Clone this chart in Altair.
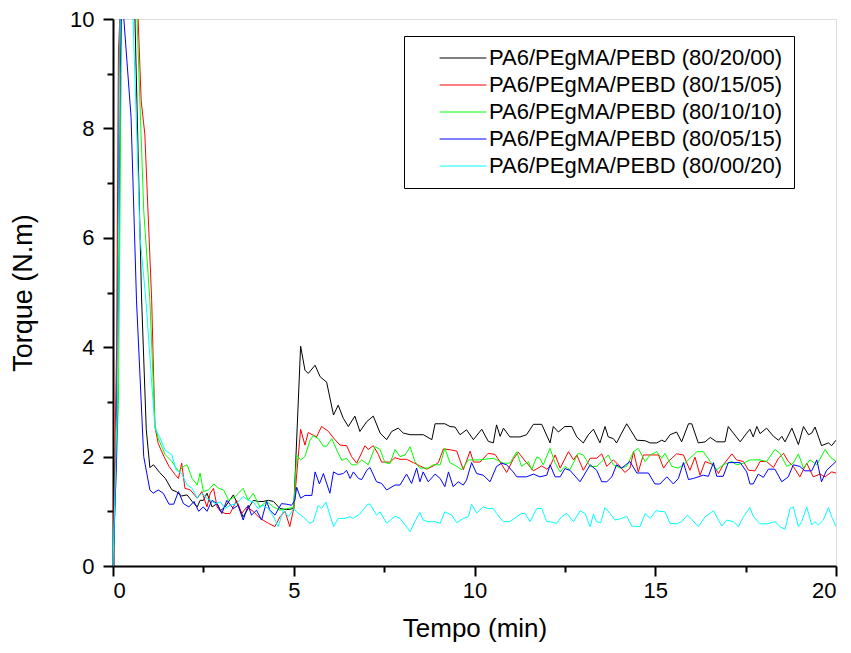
import altair as alt
import pandas as pd

SERIES = [
    "PA6/PEgMA/PEBD (80/20/00)",
    "PA6/PEgMA/PEBD (80/15/05)",
    "PA6/PEgMA/PEBD (80/10/10)",
    "PA6/PEgMA/PEBD (80/05/15)",
    "PA6/PEgMA/PEBD (80/00/20)",
]
COLORS = ["#000000", "#ff0000", "#00ff00", "#0000ff", "#00ffff"]

BLACK_T = [0, 0.1, 0.2, 0.4, 0.6, 0.79, 0.92, 1.02, 1.12, 1.29, 1.45, 1.63, 1.75, 1.9, 2.05, 2.19, 2.33, 2.41, 2.5, 2.6,
           2.74, 2.88, 2.97, 3.1, 3.33, 3.46, 3.6, 3.74, 3.88, 4.02, 4.15, 4.3, 4.44, 4.62, 4.8, 5.0, 5.19, 5.31, 5.4, 5.59,
           5.73, 5.91, 6.1, 6.23, 6.37, 6.51, 6.69, 6.83, 7.02, 7.2, 7.39, 7.57, 7.71, 7.89, 8.03, 8.22, 8.585, 8.82, 8.91, 9.18,
           9.32, 9.46, 9.6, 9.78, 9.97, 10.2, 10.38, 10.52, 10.61, 10.71, 10.8, 10.98, 11.26, 11.44, 11.63, 11.86, 12.09, 12.18, 12.32, 12.5,
           12.69, 12.83, 13.01, 13.15, 13.29, 13.47, 13.61, 13.7, 13.84, 13.93, 14.07, 14.21, 14.35, 14.49, 14.72, 14.86, 15.04, 15.18, 15.27, 15.41,
           15.59, 15.73, 15.92, 16.01, 16.19, 16.38, 16.52, 16.7, 16.93, 17.02, 17.16, 17.35, 17.53, 17.62, 17.71, 17.81, 17.9, 18.08, 18.27, 18.41,
           18.5, 18.59, 18.78, 18.96, 19.1, 19.24, 19.33, 19.42, 19.6, 19.79, 19.88, 20.0]
BLACK_Y = [0, 2.5, 10.8, 12.5, 10.2, 4.9, 2.5, 1.8, 1.85, 1.71, 1.6, 1.39, 1.36, 1.28, 1.3, 1.18, 1.08, 1.2, 1.2, 1.33,
           1.08, 1.14, 1.01, 1.08, 1.3, 1.11, 0.9, 1.05, 1.2, 1.18, 1.18, 1.2, 1.18, 1.05, 1.03, 1.05, 4.02, 3.58, 3.52, 3.67,
           3.46, 3.36, 2.76, 2.94, 2.7, 2.55, 2.74, 2.46, 2.64, 2.74, 2.43, 2.31, 2.46, 2.52, 2.43, 2.4, 2.4, 2.31, 2.6, 2.6,
           2.55, 2.54, 2.4, 2.49, 2.31, 2.5, 2.28, 2.25, 2.58, 2.37, 2.52, 2.36, 2.36, 2.4, 2.59, 2.59, 2.25, 2.55, 2.45, 2.55,
           2.55, 2.36, 2.25, 2.4, 2.5, 2.25, 2.55, 2.36, 2.33, 2.25, 2.43, 2.6, 2.45, 2.3, 2.29, 2.25, 2.25, 2.3, 2.27, 2.4,
           2.45, 2.27, 2.6, 2.6, 2.25, 2.27, 2.35, 2.27, 2.27, 2.55, 2.43, 2.27, 2.43, 2.5, 2.36, 2.55, 2.42, 2.52, 2.37, 2.3,
           2.37, 2.27, 2.52, 2.22, 2.55, 2.4, 2.43, 2.54, 2.2, 2.25, 2.2, 2.3]

RED_T = [0, 0.1, 0.15, 0.25, 0.5, 0.69, 0.78, 0.88, 1.07, 1.16, 1.25, 1.41, 1.55, 1.72, 1.81, 1.9, 1.99, 2.14, 2.33, 2.46,
         2.6, 2.69, 2.78, 2.88, 2.97, 3.1, 3.24, 3.42, 3.56, 3.7, 3.88, 4.02, 4.15, 4.3, 4.48, 4.62, 4.76, 4.89, 5.0, 5.19,
         5.31, 5.4, 5.63, 5.77, 5.96, 6.1, 6.28, 6.46, 6.6, 6.74, 6.88, 6.97, 7.06, 7.2, 7.34, 7.43, 7.66, 7.8, 7.94, 8.12,
         8.31, 8.49, 8.68, 8.86, 9.0, 9.14, 9.37, 9.51, 9.69, 9.88, 9.97, 10.15, 10.38, 10.57, 10.71, 10.89, 11.07, 11.21, 11.4, 11.63,
         11.86, 12.0, 12.09, 12.23, 12.37, 12.6, 12.74, 12.83, 13.01, 13.2, 13.38, 13.52, 13.66, 13.84, 14.03, 14.16, 14.3, 14.4, 14.53, 14.67,
         14.86, 15.09, 15.23, 15.36, 15.59, 15.78, 15.96, 16.1, 16.24, 16.38, 16.61, 16.75, 16.88, 17.12, 17.25, 17.44, 17.58, 17.76, 17.9, 18.08,
         18.27, 18.41, 18.55, 18.68, 18.82, 19.0, 19.19, 19.37, 19.56, 19.7, 19.88, 20.0]
RED_Y = [0, 4, 9.4, 11, 12, 10.1, 8.5, 7.9, 4.86, 2.55, 2.24, 2.0, 1.82, 1.67, 1.6, 1.88, 1.42, 1.39, 1.24, 1.36,
         1.08, 1.33, 1.42, 1.08, 1.0, 0.96, 0.96, 1.2, 0.96, 1.08, 1.0, 0.9, 0.84, 0.78, 0.72, 0.9, 1.0, 0.72, 1.05, 2.5,
         2.21, 2.44, 2.36, 2.55, 2.46, 2.34, 2.21, 2.2, 2.0, 1.88, 2.07, 2.2, 2.13, 2.2, 2.04, 1.9, 1.9, 1.98, 1.95, 1.95,
         1.89, 1.83, 1.77, 1.83, 1.89, 2.14, 2.12, 2.1, 1.76, 2.1, 1.9, 1.9, 2.06, 2.04, 1.9, 1.71, 1.95, 2.08, 1.92, 1.74,
         1.83, 1.77, 1.82, 2.03, 1.79, 2.09, 1.94, 2.03, 1.75, 1.97, 1.97, 2.05, 1.82, 1.94, 1.82, 1.71, 1.79, 2.09, 1.72, 2.03,
         2.03, 2.03, 1.79, 1.91, 2.05, 2.03, 1.75, 1.99, 1.66, 1.91, 1.85, 1.69, 1.85, 2.05, 1.94, 1.91, 1.75, 1.74, 1.91, 1.91,
         1.8, 1.97, 2.06, 1.91, 1.82, 1.63, 1.88, 1.63, 1.68, 1.63, 1.72, 1.7]

GREEN_T = [0, 0.15, 0.25, 0.5, 0.66, 0.85, 1.02, 1.16, 1.25, 1.44, 1.63, 1.81, 1.95, 2.05, 2.19, 2.33, 2.41, 2.5, 2.64, 2.79,
           2.92, 3.06, 3.2, 3.38, 3.6, 3.74, 3.88, 4.06, 4.25, 4.44, 4.62, 4.8, 5.0, 5.08, 5.19, 5.31, 5.45, 5.54, 5.68, 5.82,
           5.91, 6.05, 6.19, 6.33, 6.46, 6.6, 6.74, 6.88, 7.06, 7.25, 7.39, 7.52, 7.66, 7.8, 7.94, 8.08, 8.22, 8.35, 8.49, 8.72,
           8.86, 9.05, 9.18, 9.32, 9.51, 9.65, 9.83, 10.15, 10.52, 10.8, 10.98, 11.17, 11.3, 11.49, 11.58, 11.72, 11.81, 11.9, 12.09, 12.23,
           12.37, 12.5, 12.64, 12.87, 13.01, 13.2, 13.38, 13.57, 13.7, 13.84, 14.03, 14.21, 14.4, 14.53, 14.72, 14.86, 15.04, 15.18, 15.27, 15.46,
           15.64, 15.78, 15.96, 16.15, 16.33, 16.52, 16.7, 16.88, 17.12, 17.25, 17.44, 17.62, 17.9, 18.08, 18.31, 18.45, 18.64, 18.82, 18.96, 19.1,
           19.28, 19.47, 19.7, 19.84, 20.0]
GREEN_Y = [0, 3, 11, 12, 10.1, 6.5, 4.86, 2.58, 2.34, 2.04, 1.91, 1.73, 1.82, 1.85, 1.6, 1.48, 1.7, 1.36, 1.39, 1.5,
           1.42, 1.39, 1.2, 1.27, 1.42, 1.2, 1.33, 1.08, 1.18, 1.08, 1.02, 1.05, 1.07, 2.03, 1.94, 2.0, 2.3, 2.38, 2.33, 2.19,
           2.19, 2.33, 2.12, 1.93, 1.97, 1.85, 1.85, 1.94, 1.85, 2.18, 2.13, 1.89, 1.87, 2.13, 2.0, 2.03, 2.18, 1.91, 1.79, 1.79,
           1.85, 1.85, 2.15, 1.89, 1.82, 1.76, 1.94, 1.94, 1.97, 1.88, 1.88, 2.09, 1.82, 1.91, 1.76, 1.99, 1.97, 1.85, 2.15, 1.88,
           1.72, 1.82, 1.76, 2.06, 2.03, 1.82, 1.82, 1.94, 2.03, 1.85, 1.79, 1.82, 2.09, 2.15, 1.91, 2.03, 2.09, 1.97, 2.06, 1.82,
           1.79, 1.85, 1.97, 2.09, 2.09, 1.91, 1.76, 1.85, 1.91, 1.85, 1.88, 1.94, 1.94, 1.91, 2.13, 2.06, 1.82, 1.88, 2.05, 1.79,
           1.94, 1.85, 2.13, 1.99, 1.91]

BLUE_T = [0, 0.1, 0.2, 0.24, 0.3, 0.5, 0.65, 0.85, 1.02, 1.11, 1.25, 1.39, 1.55, 1.68, 1.81, 1.95, 2.1, 2.24, 2.37, 2.5,
          2.6, 2.74, 2.88, 3.01, 3.15, 3.33, 3.46, 3.6, 3.74, 3.83, 3.97, 4.11, 4.25, 4.34, 4.48, 4.66, 4.8, 4.94, 5.03, 5.08,
          5.19, 5.31, 5.5, 5.59, 5.71, 5.82, 6.0, 6.1, 6.23, 6.37, 6.46, 6.56, 6.65, 6.79, 6.88, 7.02, 7.11, 7.29, 7.43, 7.57,
          7.8, 7.94, 8.12, 8.26, 8.4, 8.49, 8.58, 8.72, 8.91, 9.05, 9.18, 9.28, 9.41, 9.55, 9.69, 9.78, 9.92, 10.06, 10.24, 10.43,
          10.61, 10.75, 10.89, 11.07, 11.17, 11.44, 11.63, 11.81, 12.0, 12.09, 12.23, 12.37, 12.5, 12.64, 12.92, 13.2, 13.38, 13.52, 13.66, 13.8,
          13.93, 14.07, 14.3, 14.49, 14.63, 14.81, 14.99, 15.13, 15.32, 15.5, 15.64, 15.78, 15.92, 16.05, 16.33, 16.47, 16.61, 16.7, 16.88, 17.02,
          17.35, 17.53, 17.62, 17.71, 17.85, 17.99, 18.13, 18.31, 18.5, 18.68, 18.82, 19.0, 19.14, 19.33, 19.47, 19.6, 19.74, 20.0]
BLUE_Y = [0, 2, 9, 10.5, 10.0, 8.2, 4.86, 2.0, 1.39, 1.33, 1.39, 1.33, 1.13, 1.13, 1.36, 1.14, 1.08, 1.18, 1.0, 1.08,
          1.0, 1.2, 1.14, 0.96, 1.2, 1.05, 1.11, 0.84, 1.11, 0.93, 1.02, 0.84, 1.18, 1.02, 0.93, 1.14, 1.13, 1.11, 1.2, 1.44,
          1.24, 1.29, 1.29, 1.72, 1.5, 1.69, 1.33, 1.72, 1.67, 1.69, 1.75, 1.6, 1.72, 1.6, 1.58, 1.75, 1.8, 1.54, 1.51, 1.39,
          1.48, 1.48, 1.68, 1.51, 1.79, 1.54, 1.72, 1.54, 1.68, 1.6, 1.45, 1.72, 1.45, 1.54, 1.48, 1.57, 1.89, 1.69, 1.66, 1.54,
          1.82, 1.88, 1.85, 1.72, 1.63, 1.63, 1.68, 1.63, 1.66, 1.85, 1.63, 1.63, 1.78, 1.75, 1.54, 1.85, 1.75, 1.54, 1.54, 1.63,
          1.85, 1.79, 1.91, 1.7, 1.7, 1.7, 1.5, 1.5, 1.63, 1.5, 1.6, 1.89, 1.58, 1.6, 1.66, 1.64, 1.89, 1.64, 1.64, 1.89,
          1.89, 1.72, 1.5, 1.5, 1.68, 1.62, 1.77, 1.77, 1.54, 1.63, 1.85, 1.82, 1.74, 1.74, 1.94, 1.54, 1.75, 1.91]

CYAN_T = [0, 0.12, 0.2, 0.4, 0.55, 0.75, 0.91, 1.16, 1.29, 1.44, 1.63, 1.75, 1.9, 2.05, 2.19, 2.33, 2.46, 2.6, 2.7, 2.83,
          2.97, 3.1, 3.24, 3.42, 3.6, 3.74, 3.88, 4.02, 4.15, 4.3, 4.44, 4.57, 4.71, 4.85, 5.0, 5.08, 5.27, 5.45, 5.54, 5.68,
          5.77, 5.89, 6.1, 6.23, 6.42, 6.56, 6.65, 6.83, 7.04, 7.11, 7.29, 7.39, 7.57, 7.8, 7.94, 8.22, 8.35, 8.49, 8.58, 8.72,
          8.91, 9.05, 9.18, 9.37, 9.51, 9.69, 9.83, 9.92, 10.06, 10.24, 10.38, 10.52, 10.61, 10.8, 10.98, 11.17, 11.3, 11.4, 11.54, 11.72,
          11.86, 12.0, 12.09, 12.27, 12.41, 12.55, 12.74, 12.92, 13.06, 13.2, 13.29, 13.38, 13.49, 13.61, 13.75, 13.89, 14.07, 14.21, 14.35, 14.58,
          14.72, 14.86, 15.02, 15.27, 15.41, 15.59, 15.73, 15.89, 16.01, 16.19, 16.38, 16.61, 16.84, 16.98, 17.16, 17.3, 17.44, 17.62, 17.71, 17.9,
          18.08, 18.31, 18.45, 18.59, 18.73, 18.82, 18.96, 19.05, 19.19, 19.33, 19.42, 19.51, 19.65, 19.79, 19.88, 20.0]
CYAN_Y = [0, 3, 10.5, 12, 10.1, 6, 4.86, 2.52, 2.36, 2.12, 2.03, 1.75, 1.69, 1.48, 1.42, 1.24, 1.33, 1.24, 1.2, 1.14,
          1.17, 1.05, 1.11, 1.14, 1.27, 1.2, 1.17, 1.05, 1.11, 1.05, 0.9, 0.72, 1.02, 0.9, 1.05, 0.99, 0.89, 0.78, 0.81, 1.11,
          1.05, 1.17, 0.72, 0.87, 0.87, 0.9, 0.87, 0.95, 1.13, 1.13, 0.93, 0.99, 0.78, 0.91, 0.87, 0.63, 0.81, 0.98, 0.84, 0.81,
          0.81, 0.78, 0.99, 0.93, 0.79, 0.87, 0.9, 1.13, 0.97, 1.08, 1.05, 1.05, 0.96, 0.81, 0.81, 0.9, 0.96, 0.96, 0.81, 1.05,
          1.05, 0.81, 0.81, 0.78, 0.9, 0.96, 0.81, 1.01, 0.96, 0.72, 0.95, 0.81, 0.79, 1.07, 0.96, 0.84, 0.87, 0.91, 0.73, 0.72,
          0.96, 0.87, 1.01, 0.99, 0.78, 0.77, 0.81, 0.93, 0.85, 0.72, 0.9, 1.01, 0.73, 0.84, 0.81, 0.72, 0.9, 1.07, 0.91, 0.77,
          0.77, 0.81, 0.72, 0.67, 1.05, 1.08, 0.72, 0.81, 1.08, 0.75, 0.81, 0.75, 0.84, 1.07, 0.9, 0.72]

X_MAJOR = [0, 5, 10, 15, 20]
X_MINOR = [2.5, 7.5, 12.5, 17.5]
Y_MAJOR = [0, 2, 4, 6, 8, 10]
Y_MINOR = [1, 3, 5, 7, 9]

rows = []
for name, ts, ys in zip(SERIES, [BLACK_T, RED_T, GREEN_T, BLUE_T, CYAN_T],
                        [BLACK_Y, RED_Y, GREEN_Y, BLUE_Y, CYAN_Y]):
    for i, (t, y) in enumerate(zip(ts, ys)):
        rows.append({"serie": name, "t": t, "torque": y, "i": i})
df = pd.DataFrame(rows)

FONT = "Liberation Sans"

xscale = alt.Scale(domain=[0, 20], nice=False, zero=False)
yscale = alt.Scale(domain=[0, 10], nice=False)

main = alt.Chart(df).mark_line(strokeWidth=1, clip=True).encode(
    x=alt.X("t:Q", scale=xscale,
            axis=alt.Axis(values=X_MAJOR, title="Tempo (min)", orient="bottom", tickSize=10,
                          tickWidth=2, tickColor="black", domainColor="black", domainWidth=2,
                          labelFontSize=22, titleFontSize=26, labelPadding=4, titlePadding=14,
                          grid=False, labelFont=FONT, titleFont=FONT, titleFontWeight="normal",
                          labelColor="black", titleColor="black")),
    y=alt.Y("torque:Q", scale=yscale,
            axis=alt.Axis(values=Y_MAJOR, title="Torque (N.m)", orient="left", tickSize=10,
                          tickWidth=2, tickColor="black", domainColor="black", domainWidth=2,
                          labelFontSize=22, titleFontSize=27, labelPadding=9, titlePadding=32,
                          grid=False, labelFont=FONT, titleFont=FONT, titleFontWeight="normal",
                          labelColor="black", titleColor="black")),
    color=alt.Color("serie:N", sort=SERIES,
                    scale=alt.Scale(domain=SERIES, range=COLORS),
                    legend=alt.Legend(title=None, orient="none", legendX=291, legendY=17,
                                      symbolType="M-3.9,0H3.9", symbolSize=144, symbolStrokeWidth=1,
                                      symbolOffset=37,
                                      labelFontSize=22, labelFont=FONT, labelColor="black",
                                      labelExpr="datum.label + '\u2003'",
                                      strokeColor="black", fillColor="white", padding=11,
                                      rowPadding=5, labelOffset=15, labelLimit=450,
                                      offset=0)),
    order="i:Q",
)

minor = alt.Chart(df).mark_line(opacity=0).encode(
    x=alt.X("t:Q", scale=xscale,
            axis=alt.Axis(values=X_MINOR, title=None, orient="bottom", tickSize=6, tickWidth=2,
                          tickColor="black", labels=False, domain=False, grid=False)),
    y=alt.Y("torque:Q", scale=yscale,
            axis=alt.Axis(values=Y_MINOR, title=None, orient="left", tickSize=6, tickWidth=2,
                          tickColor="black", labels=False, domain=False, grid=False)),
)

chart = alt.layer(minor, main).resolve_axis(x="independent", y="independent").properties(
    width=723, height=547,
    autosize=alt.AutoSizeParams(type="none"),
    padding={"left": 105, "top": 11, "right": 7, "bottom": 79},
).configure_view(stroke="#808080", strokeWidth=1.5).configure(background="white")

chart.save("out.html", embed_options={"renderer": "svg", "actions": False})
